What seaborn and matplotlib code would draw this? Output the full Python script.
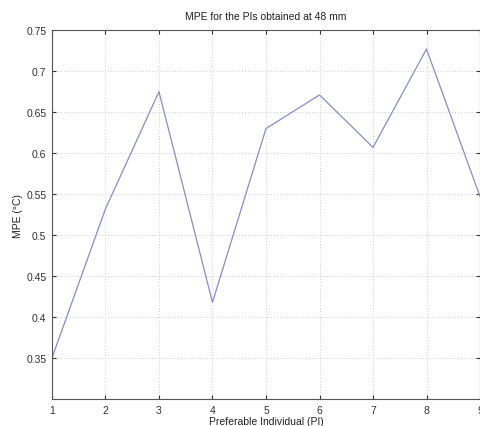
import matplotlib
matplotlib.use("Agg")
import matplotlib.pyplot as plt
import seaborn as sns
import pandas as pd

pi_index = [1, 2, 3, 4, 5, 6, 7, 8, 9]
mpe_values = [0.350, 0.532, 0.675, 0.418, 0.630, 0.671, 0.607, 0.727, 0.547]
x_ticks = [1, 2, 3, 4, 5, 6, 7, 8, 9]
y_ticks = [0.35, 0.4, 0.45, 0.5, 0.55, 0.6, 0.65, 0.7, 0.75]
y_tick_labels = ["0.35", "0.4", "0.45", "0.5", "0.55", "0.6", "0.65", "0.7", "0.75"]

sns.set_style("white")
plt.rcParams['font.family'] = ['Liberation Sans', 'DejaVu Sans']

df = pd.DataFrame({"PI": pi_index, "MPE": mpe_values})

fig = plt.figure(figsize=(4.81, 4.27), dpi=100)
ax = fig.add_axes([0.108, 0.063, 0.890, 0.864])
sns.lineplot(data=df, x="PI", y="MPE", ax=ax, color="#8a8ad0", linewidth=0.9)

ax.set_xlim(1, 9)
ax.set_ylim(0.30, 0.75)
ax.set_xticks(x_ticks)
ax.set_xticklabels([str(t) for t in x_ticks])
ax.set_yticks(y_ticks)
ax.set_yticklabels(y_tick_labels)
ax.grid(True, linestyle=(0, (1, 2)), color="#cccccc", linewidth=0.7)
ax.tick_params(direction="in", length=3, labelsize=7.5, colors="#333333", pad=4,
               top=True, right=True, bottom=True, left=True)
for s in ax.spines.values():
    s.set_color("#555555")
    s.set_linewidth(0.8)
ax.set_title("MPE for the PIs obtained at 48 mm", fontsize=7.5, color="#222222", pad=8)
ax.set_xlabel("Preferable Individual (PI)", fontsize=7.5, color="#222222", labelpad=1)
ax.set_ylabel("MPE (°C)", fontsize=7.5, color="#222222", labelpad=2)

fig.savefig("out.png", dpi=100)
